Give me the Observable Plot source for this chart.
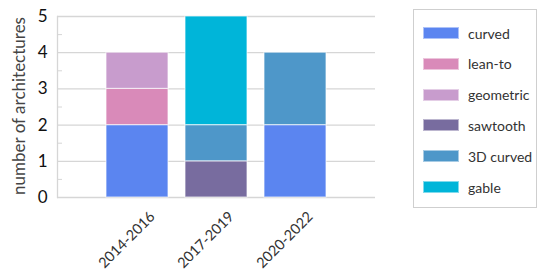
<!DOCTYPE html>
<html>
<head>
<meta charset="utf-8">
<script src="https://cdn.jsdelivr.net/npm/d3@7"></script>
<script src="https://cdn.jsdelivr.net/npm/@observablehq/plot@0.6"></script>
<style>
  body { margin: 0; background: #fff; font-family: Lato, "Noto Sans", sans-serif; }
  #wrap { position: relative; width: 550px; height: 273px; }
  #legend { position: absolute; left: 413px; top: 9px; width: 124px; height: 199px;
            border: 1px solid #cfcfcf; box-sizing: border-box; }
  .row { position: absolute; left: 9px; height: 14px; display: flex; align-items: center; }
  .sw { width: 36px; height: 12px; box-sizing: border-box; border: 1px solid rgba(255,255,255,0.5); }
  .lab { margin-left: 9px; font-size: 14px; color: #333; white-space: nowrap; }
</style>
</head>
<body>
<div id="wrap"></div>
<script>
const periods = ["2014-2016", "2017-2019", "2020-2022"];
const types = ["curved", "lean-to", "geometric", "sawtooth", "3D curved", "gable"];
const colors = ["#5b85f0", "#d98ab9", "#c89ccd", "#786c9f", "#4e97c9", "#00b5d9"];
const curved    = [2, 0, 2];
const leanTo    = [1, 0, 0];
const geometric = [1, 0, 0];
const sawtooth  = [0, 1, 0];
const curved3D  = [0, 1, 2];
const gable     = [0, 3, 0];
const yTicks = [0, 1, 2, 3, 4, 5];
const yMinor = [0.5, 1.5, 2.5, 3.5, 4.5];

const series = [curved, leanTo, geometric, sawtooth, curved3D, gable];
const rows = [];
types.forEach((t, i) => periods.forEach((p, j) => rows.push({period: p, type: t, value: series[i][j]})));

const plot = Plot.plot({
  width: 550,
  height: 273,
  marginLeft: 57,
  marginRight: 175,
  marginTop: 16,
  marginBottom: 76,
  style: {fontFamily: "Lato, 'Noto Sans', sans-serif", background: "#fff"},
  x: {domain: periods, paddingInner: 0.22, paddingOuter: 0.61, label: null, axis: null},
  y: {domain: [0, 5], label: null, axis: null},
  color: {domain: types, range: colors},
  marks: [
    Plot.gridY(yTicks, {stroke: "#d6d6d6", strokeOpacity: 1, strokeWidth: 1.3}),
    Plot.frame({anchor: "left", stroke: "#d6d6d6", strokeWidth: 1.3}),
    Plot.axisY(yMinor, {tickSize: 5, dx: 5, text: null, stroke: "#d6d6d6"}),
    Plot.axisY(yTicks, {tickSize: 0, tickPadding: 10, fontSize: 17, fill: "#111", label: null}),
    Plot.barY(rows, Plot.stackY({order: types}, {
      x: "period", y: "value", fill: "type",
      stroke: "#ffffff", strokeOpacity: 0.6, strokeWidth: 1.2
    })),
    Plot.axisX({tickSize: 0, tickRotate: -45, fontSize: 14.5, fill: "#333", dx: 15, dy: 5, label: null}),
    Plot.text(["number of architectures"], {
      frameAnchor: "left", dx: -38, dy: -1, rotate: -90, fontSize: 17, fill: "#444", textAnchor: "middle"
    })
  ]
});

const wrap = document.getElementById("wrap");
wrap.appendChild(plot);

const legend = document.createElement("div");
legend.id = "legend";
const color = plot.scale("color");
types.forEach((t, i) => {
  const r = document.createElement("div");
  r.className = "row";
  r.style.top = (16 + i * 30.8) + "px";
  const sw = document.createElement("div");
  sw.className = "sw";
  sw.style.background = color.apply(t);
  const lab = document.createElement("span");
  lab.className = "lab";
  lab.textContent = t;
  r.appendChild(sw); r.appendChild(lab);
  legend.appendChild(r);
});
wrap.appendChild(legend);
</script>
</body>
</html>
